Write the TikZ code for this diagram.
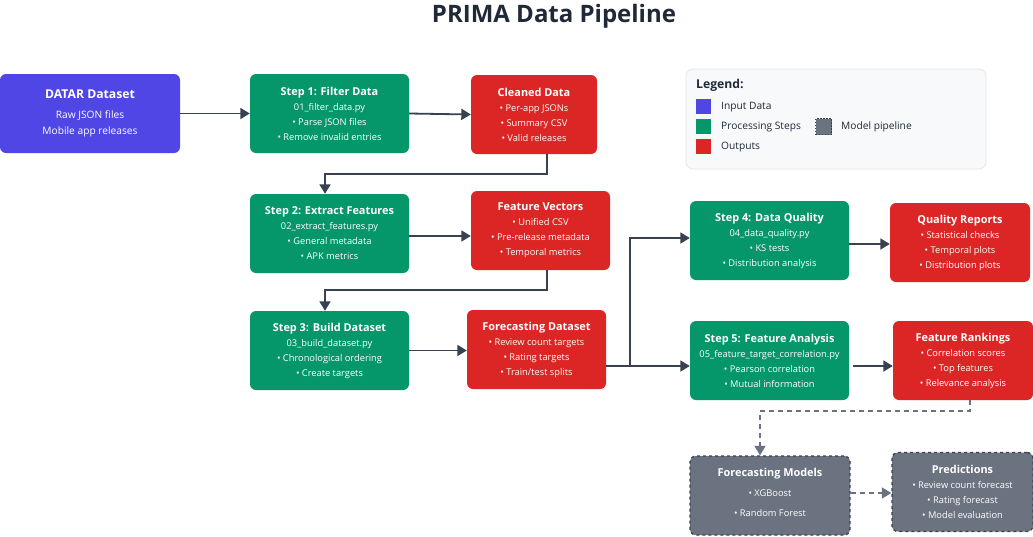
\documentclass[tikz,border=0pt]{standalone}
\usepackage{fontspec}
\setmainfont{Open Sans}
\usetikzlibrary{arrows.meta}
\definecolor{cInput}{HTML}{4F46E5}
\definecolor{cStep}{HTML}{059669}
\definecolor{cOut}{HTML}{DC2626}
\definecolor{cModel}{HTML}{6B7280}
\definecolor{cLine}{HTML}{374151}
\definecolor{cTitle}{HTML}{1F2937}
\definecolor{cLegFill}{HTML}{F8F9FA}
\definecolor{cLegDraw}{HTML}{E5E7EB}
\tikzset{
  box/.style={rounded corners=6pt, text=white, align=center, inner sep=0pt,
    font=\fontsize{9.3}{15}\selectfont},
  inputbox/.style={box, fill=cInput, minimum width=180pt, minimum height=79pt},
  stepbox/.style={box, fill=cStep, minimum width=159pt, minimum height=79pt},
  outbox/.style={box, fill=cOut, minimum height=79pt},
  modelbox/.style={box, fill=cModel, draw=cLine, dashed, line width=1.3pt, minimum height=79pt},
  arr/.style={draw=cLine, line width=1.8pt, -{Triangle[length=9.5pt,width=11pt]}},
  darr/.style={draw=cModel, line width=1.6pt, dashed, dash pattern=on 5pt off 4pt, -{Triangle[length=9.5pt,width=11pt]}},
  legsq/.style={minimum size=15pt, inner sep=0pt},
  legtxt/.style={anchor=west, font=\fontsize{10.2}{12}\selectfont, text=cTitle},
}
\newcommand{\bt}[1]{{\fontsize{10.9}{15}\selectfont\bfseries #1}}
\begin{document}
\begin{tikzpicture}[x=1pt, y=-1pt]
\useasboundingbox (0,0) rectangle (1033,536);
\fill[white] (0,0) rectangle (1033,536);

\node[font=\fontsize{24}{28}\selectfont\bfseries, text=cTitle] (title) at (554,16) {PRIMA Data Pipeline};

% input
\node[inputbox, font=\fontsize{10.2}{16}\selectfont] (datar) at (90,113.5) {{\fontsize{12.2}{16}\selectfont\bfseries DATAR Dataset}\\[4pt] Raw JSON files\\ Mobile app releases};

% processing steps
\node[stepbox] (s1) at (329.5,113.5) {\bt{Step 1: Filter Data}\\ 01\_filter\_data.py\\ • Parse JSON files\\ • Remove invalid entries};
\node[stepbox] (s2) at (329.5,233.5) {\bt{Step 2: Extract Features}\\ 02\_extract\_features.py\\ • General metadata\\ • APK metrics};
\node[stepbox] (s3) at (329.5,350.5) {\bt{Step 3: Build Dataset}\\ 03\_build\_dataset.py\\ • Chronological ordering\\ • Create targets};
\node[stepbox] (s4) at (769.5,240.5) {\bt{Step 4: Data Quality}\\ 04\_data\_quality.py\\ • KS tests\\ • Distribution analysis};
\node[stepbox] (s5) at (769.5,360.5) {\bt{Step 5: Feature Analysis}\\ 05\_feature\_target\_correlation.py\\ • Pearson correlation\\ • Mutual information};

% outputs
\node[outbox, minimum width=126pt] (clean) at (534,114.5) {\bt{Cleaned Data}\\ • Per-app JSONs\\ • Summary CSV\\ • Valid releases};
\node[outbox, minimum width=139pt] (fv) at (540.5,230.5) {\bt{Feature Vectors}\\ • Unified CSV\\ • Pre-release metadata\\ • Temporal metrics};
\node[outbox, minimum width=139pt] (fd) at (536.5,349.5) {\bt{Forecasting Dataset}\\ • Review count targets\\ • Rating targets\\ • Train/test splits};
\node[outbox, minimum width=140pt] (qr) at (960,242.5) {\bt{Quality Reports}\\ • Statistical checks\\ • Temporal plots\\ • Distribution plots};
\node[outbox, minimum width=140pt] (fr) at (963,360.5) {\bt{Feature Rankings}\\ • Correlation scores\\ • Top features\\ • Relevance analysis};

% model pipeline
\node[modelbox, minimum width=160pt] (fm) at (770,495.5) {};
\node[box] (fmtext) at ([yshift=3.5pt]fm.center) {\bt{Forecasting Models}\\[5pt] • XGBoost\\[5pt] • Random Forest};
\node[modelbox, minimum width=141pt] (pred) at (962.5,492) {\bt{Predictions}\\ • Review count forecast\\ • Rating forecast\\ • Model evaluation};

% legend
\node[draw=cLegDraw, fill=cLegFill, rounded corners=7pt, line width=0.8pt, minimum width=300pt, minimum height=100pt] (legend) at (836,119) {};
\node[anchor=west, inner sep=0pt, font=\fontsize{12.2}{14}\selectfont\bfseries, text=cTitle] (legtitle) at (696,85) {Legend:};
\node[legsq, fill=cInput] (lq1) at (703.5,106.5) {};
\node[legsq, fill=cStep] (lq2) at (703.5,126.5) {};
\node[legsq, fill=cOut] (lq3) at (703.5,146.5) {};
\node[legsq, fill=cModel, draw=cLine, dashed, dash pattern=on 1.5pt off 1.5pt, line width=0.8pt, minimum size=16pt] (lq4) at (823.5,126.5) {};
\node[legtxt, inner sep=0pt] (lt1) at (721,107) {Input Data};
\node[legtxt, inner sep=0pt] (lt2) at (721,127) {Processing Steps};
\node[legtxt, inner sep=0pt] (lt3) at (721,147) {Outputs};
\node[legtxt, inner sep=0pt] (lt4) at (841,127) {Model pipeline};

% connectors
\draw[arr] (datar.east) -- (s1.west);
\draw[arr] (s1.east) -- (clean.west);
\draw[arr] ([xshift=13pt]clean.south) -- ++(0,20) -| ([xshift=-4.5pt]s2.north);
\draw[arr] ([yshift=-2.5pt]s2.east) -- ([yshift=-5.5pt]fv.west);
\draw[arr] ([xshift=6.5pt]fv.south) -- ++(0,20) -| ([xshift=-4.5pt]s3.north);
\draw[arr] (s3.east) -- ([yshift=-1pt]fd.west);
\coordinate (split) at (630,366);
\draw[arr] ([yshift=-16.5pt]fd.east) -- (split) |- ([yshift=2.5pt]s4.west);
\draw[arr] (split) -- ([yshift=-5.5pt]s5.west);
\draw[arr] ([yshift=-3.5pt]s4.east) -- ([yshift=-1.5pt]qr.west);
\draw[arr] ([yshift=-5.5pt,xshift=4pt]s5.east) -- ([yshift=-5.5pt]fr.west);
\draw[darr] ([xshift=7pt]fr.south) -- ++(0,11) -| ([xshift=-10pt]fm.north);
\draw[darr] ([yshift=2.5pt]fm.east) -- ([yshift=-1pt]pred.west);
\end{tikzpicture}
\end{document}
